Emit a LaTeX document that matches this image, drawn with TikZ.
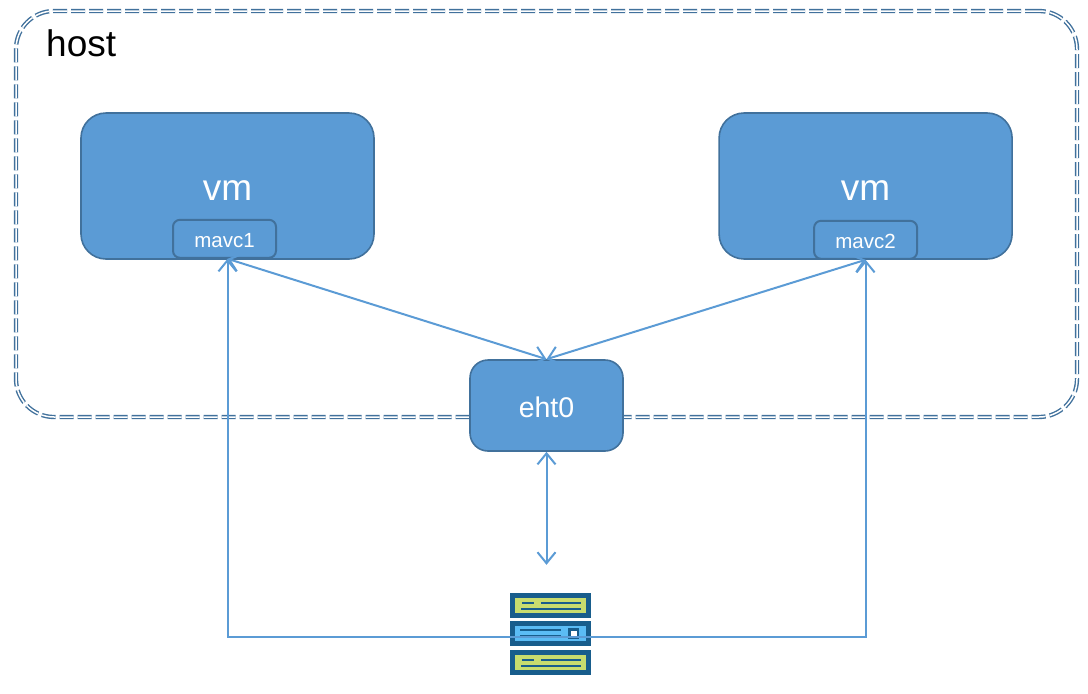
\documentclass[tikz,border=0pt]{standalone}
\usepackage{fontspec}
\setmainfont{Liberation Sans}
\usepackage{tikz}
\usetikzlibrary{arrows.meta, positioning}

\definecolor{boxfill}{HTML}{5B9BD5}
\definecolor{boxedge}{HTML}{41719C}
\definecolor{rackdark}{HTML}{185D8C}
\definecolor{rackgreen}{HTML}{C8DC6E}
\definecolor{rackblue}{HTML}{5BBCF5}

\begin{document}
\begin{tikzpicture}[x=1pt, y=-1pt,
    hostbox/.style={draw=boxedge, line width=1.4pt, double=white, double distance=1.5pt, dash pattern=on 14pt off 4pt, rounded corners=38pt},
    vmbox/.style={draw=boxedge, line width=1.6pt, fill=boxfill, rounded corners=25pt, minimum width=293pt, minimum height=146pt, text=white, text height=28pt, text depth=0pt, font=\fontsize{37}{37}\selectfont},
    macbox/.style={draw=boxedge, line width=2pt, fill=boxfill, rounded corners=7pt, minimum width=103pt, minimum height=38pt, text=white, text height=17.7pt, text depth=0pt, font=\fontsize{20.5}{20.5}\selectfont},
    ethbox/.style={draw=boxedge, line width=1.6pt, fill=boxfill, rounded corners=18pt, minimum width=153pt, minimum height=91pt, text=white, text height=24.4pt, text depth=0pt, font=\fontsize{28.5}{28.5}\selectfont},
    rack/.style={fill=rackdark, minimum width=81pt, minimum height=25pt, inner sep=0pt},
    link/.style={draw=boxfill, line width=2pt, {Straight Barb[length=11pt,width=18pt]}-{Straight Barb[length=11pt,width=18pt]}}]
    \useasboundingbox (0,0) rectangle (1088,694);

    % Host
    \node[hostbox, minimum width=1061pt, minimum height=406pt, inner sep=0pt] (host) at (546.5,214) {};
    \node[anchor=base west, inner sep=0pt, font=\fontsize{37}{37}\selectfont] (hostlabel) at (46,56) {host};

    % Virtual machines
    \node[vmbox] (vm1) at (227.5,186) {vm};
    \node[vmbox, right=343.5pt of vm1] (vm2) {vm};
    \node[macbox, above=1pt of vm1.south, xshift=-3pt] (mavc1) {mavc1};
    \node[macbox, above=0pt of vm2.south] (mavc2) {mavc2};

    % Physical interface
    \node[ethbox] (eth) at (546.5,405.5) {eht0};
    \coordinate[below=113pt of eth.south] (ethend);

    % Server rack
    \node[rack] (rack1) at (550.5,605.5) {};
    \node[rack, below=3pt of rack1] (rack2) {};
    \node[rack, below=3.5pt of rack2] (rack3) {};
    \foreach \r in {rack1, rack3} {
        \fill[rackgreen] ([xshift=-35.5pt,yshift=-7.5pt]\r.center) rectangle ([xshift=35.5pt,yshift=7.5pt]\r.center);
        \fill[rackdark] ([xshift=-28.5pt,yshift=3.5pt]\r.center) rectangle ([xshift=-16.5pt,yshift=1.5pt]\r.center);
        \fill[rackdark] ([xshift=-9.5pt,yshift=3.5pt]\r.center) rectangle ([xshift=30.5pt,yshift=1.5pt]\r.center);
        \fill[rackdark] ([xshift=-29.5pt,yshift=-2.5pt]\r.center) rectangle ([xshift=30.5pt,yshift=-4.5pt]\r.center);
    }
    \fill[rackblue] ([xshift=-35.5pt,yshift=-7.5pt]rack2.center) rectangle ([xshift=35.5pt,yshift=7.5pt]rack2.center);
    \fill[rackdark] ([xshift=-30.5pt,yshift=4.5pt]rack2.center) rectangle ([xshift=10.5pt,yshift=2.5pt]rack2.center);
    \fill[rackdark] ([xshift=-30.5pt,yshift=-1.5pt]rack2.center) rectangle ([xshift=10.5pt,yshift=-3.5pt]rack2.center);
    \fill[rackdark] ([xshift=17.5pt,yshift=5.5pt]rack2.center) rectangle ([xshift=28.5pt,yshift=-5.5pt]rack2.center);
    \fill[white] ([xshift=20.5pt,yshift=2.5pt]rack2.center) rectangle ([xshift=26.5pt,yshift=-3.5pt]rack2.center);
    \coordinate (lan) at ([yshift=-3.5pt]rack2.center);

    % Links
    \draw[link] ([xshift=3pt]mavc1.south) -- (eth.north);
    \draw[link] (mavc2.south) -- (eth.north);
    \draw[link] (eth.south) -- (ethend);
    \draw[link] ([xshift=3pt]mavc1.south) |- (lan) -| (mavc2.south);
\end{tikzpicture}
\end{document}
